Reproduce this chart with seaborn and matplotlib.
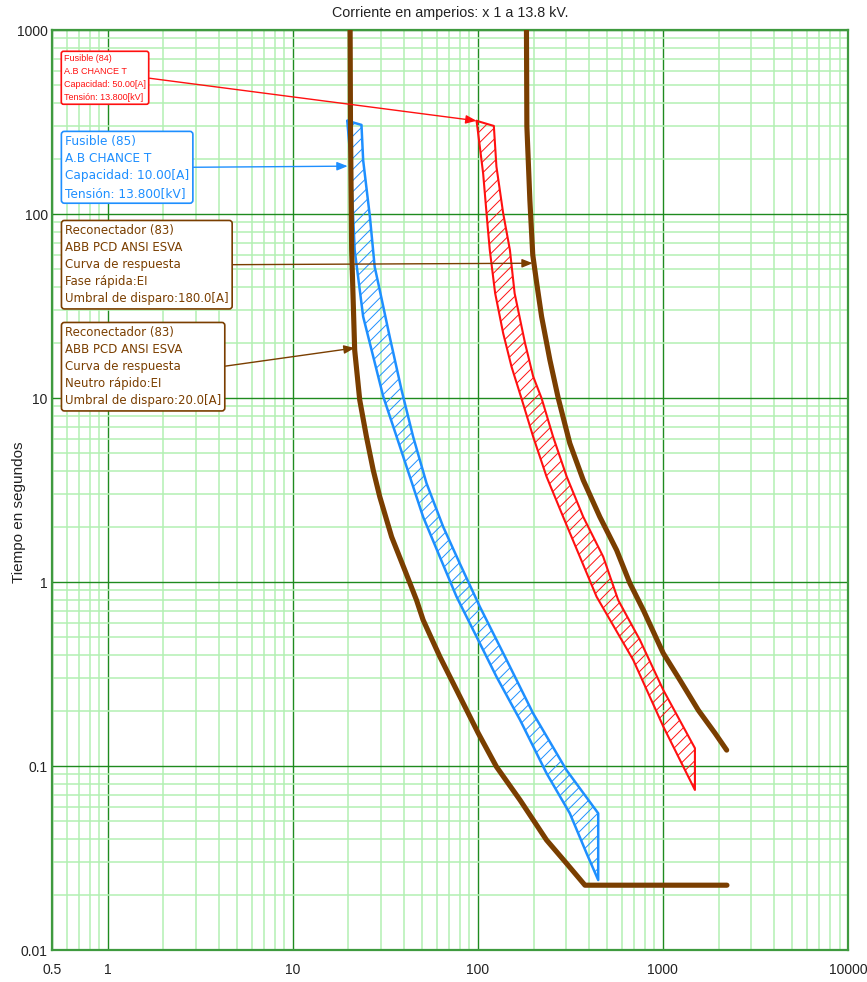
import numpy as np
import pandas as pd
import matplotlib
matplotlib.use("Agg")
import matplotlib.pyplot as plt
from matplotlib.ticker import FixedLocator, FixedFormatter, LogLocator, NullFormatter
import seaborn as sns

# ---- axis ticks ----
x_ticks = [0.5, 1, 10, 100, 1000, 10000]
x_tick_labels = ["0.5", "1", "10", "100", "1000", "10000"]
y_ticks = [0.01, 0.1, 1, 10, 100, 1000]
y_tick_labels = ["0.01", "0.1", "1", "10", "100", "1000"]

# ---- Reconectador (83), neutro rapido, pickup 20 A ----
neutral_amps = [20.4, 20.5, 20.8, 21.6, 23.0, 25.0, 27.2, 29.5, 34.2, 40.3, 46.6,
                50.6, 62.3, 76.7, 100.4, 126, 169, 235, 301, 379, 2218]
neutral_secs = [1100, 300, 63.7, 18.2, 9.75, 6.16, 4.06, 2.91, 1.76, 1.16, 0.798,
                0.622, 0.393, 0.259, 0.151, 0.0991, 0.0653, 0.0396, 0.0296, 0.0225, 0.0225]

# ---- Reconectador (83), fase rapida, pickup 180 A ----
phase_amps = [183, 184, 191, 198, 208, 221, 245, 272, 314, 371, 456, 562, 663,
              783, 1004, 1236, 1553, 1910, 2210]
phase_secs = [1100, 300, 119, 60, 42, 27.7, 16.1, 9.96, 5.67, 3.58, 2.26, 1.49, 0.984,
              0.705, 0.41, 0.293, 0.201, 0.151, 0.122]

# ---- Fusible (85) 10 A: minimum melting / total clearing ----
f85_mm_amps = [19.7, 20.5, 21.6, 24.0, 27.2, 30.8, 36.4, 42.9, 50.6, 62.3, 76.7,
               98.4, 126, 169, 235, 314, 387, 447]
f85_mm_secs = [321, 200, 63.7, 27.7, 16.8, 10.2, 6.16, 3.74, 2.26, 1.37, 0.832,
               0.504, 0.306, 0.178, 0.0913, 0.0553, 0.0335, 0.024]
f85_tc_amps = [23.5, 24.0, 26.1, 27.7, 29.5, 33.4, 38.7, 44.7, 52.8, 64.9, 79.9,
               102.5, 143, 199, 301, 447]
f85_tc_secs = [305, 196, 96.7, 51.7, 38.6, 21.5, 11.05, 6.16, 3.44, 2.0, 1.26,
               0.734, 0.377, 0.193, 0.0951, 0.0553]

# ---- Fusible (84) 50 A: minimum melting / total clearing ----
f84_mm_amps = [98.4, 100.4, 106.8, 113, 116, 124, 137, 152, 172, 199, 235, 289,
               356, 438, 691, 1004, 1489]
f84_mm_secs = [321, 274, 166, 85.3, 63.7, 37.1, 22.5, 14.8, 9.96, 6.16, 3.74, 2.26,
               1.37, 0.832, 0.377, 0.164, 0.0741]
f84_tc_amps = [122, 126, 137, 149, 158, 180, 199, 221, 255, 302, 371, 476, 573,
               751, 1004, 1489]
f84_tc_secs = [301, 181, 101, 63.7, 37.1, 19.8, 13.1, 9.96, 6.16, 3.74, 2.26, 1.37,
               0.798, 0.484, 0.259, 0.125]

# ---- labels ----
title_text = "Corriente en amperios: x 1 a 13.8 kV."
ylabel_text = "Tiempo en segundos"
label_f84 = "Fusible (84)\nA.B CHANCE T\nCapacidad: 50.00[A]\nTensión: 13.800[kV]"
label_f85 = "Fusible (85)\nA.B CHANCE T\nCapacidad: 10.00[A]\nTensión: 13.800[kV]"
label_phase = ("Reconectador (83)\nABB PCD ANSI ESVA\nCurva de respuesta\n"
               "Fase rápida:EI\nUmbral de disparo:180.0[A]")
label_neutral = ("Reconectador (83)\nABB PCD ANSI ESVA\nCurva de respuesta\n"
                 "Neutro rápido:EI\nUmbral de disparo:20.0[A]")

BROWN = "#7a3e00"
BLUE = "#1e8fff"
RED = "#ff1010"

sns.set_theme(style="white")
plt.rcParams["font.family"] = ["Liberation Sans", "DejaVu Sans"]
plt.rcParams["hatch.linewidth"] = 0.7

fig = plt.figure(figsize=(8.67, 9.82), dpi=100)
ax = fig.add_axes([52 / 867, 32 / 982, 796 / 867, 920 / 982])
ax.set_xscale("log")
ax.set_yscale("log")
ax.set_xlim(0.5, 10000)
ax.set_ylim(0.01, 1000)

# grid
ax.xaxis.set_major_locator(FixedLocator(x_ticks))
ax.xaxis.set_major_formatter(FixedFormatter(x_tick_labels))
ax.yaxis.set_major_locator(FixedLocator(y_ticks))
ax.yaxis.set_major_formatter(FixedFormatter(y_tick_labels))
ax.xaxis.set_minor_locator(LogLocator(base=10, subs=np.arange(2, 10), numticks=20))
ax.yaxis.set_minor_locator(LogLocator(base=10, subs=np.arange(2, 10), numticks=20))
ax.xaxis.set_minor_formatter(NullFormatter())
ax.yaxis.set_minor_formatter(NullFormatter())
ax.set_axisbelow(True)
ax.grid(which="minor", color="#b3f0b3", lw=1.1)
ax.grid(which="major", color="#1f8a1f", lw=1.0)
ax.tick_params(which="both", length=0)
ax.tick_params(axis="x", pad=9, labelsize=10, labelcolor="#222222")
ax.tick_params(axis="y", pad=3, labelsize=10, labelcolor="#222222")
for s in ax.spines.values():
    s.set_color("#3f9a3f")
    s.set_linewidth(1.6)


def band(ax, mm_x, mm_y, tc_x, tc_y, color, lw):
    px = list(mm_x) + list(tc_x[::-1]) + [mm_x[0]]
    py = list(mm_y) + list(tc_y[::-1]) + [mm_y[0]]
    ax.fill(px, py, facecolor="none", edgecolor=color, hatch="///", linewidth=0, zorder=2)
    df = pd.DataFrame({"amps": px, "secs": py})
    sns.lineplot(data=df, x="amps", y="secs", sort=False, estimator=None,
                 color=color, lw=lw, ax=ax, zorder=3)


band(ax, f85_mm_amps, f85_mm_secs, f85_tc_amps, f85_tc_secs, BLUE, 1.8)
band(ax, f84_mm_amps, f84_mm_secs, f84_tc_amps, f84_tc_secs, RED, 1.5)

for amps, secs in [(neutral_amps, neutral_secs), (phase_amps, phase_secs)]:
    df = pd.DataFrame({"amps": amps, "secs": secs})
    sns.lineplot(data=df, x="amps", y="secs", sort=False, estimator=None,
                 color=BROWN, lw=3.7, ax=ax, zorder=4)

ax.set_xlim(0.5, 10000)
ax.set_ylim(0.01, 1000)
ax.set_xlabel("")
ax.set_ylabel(ylabel_text, fontsize=11, color="#222222")
ax.yaxis.set_label_coords(-0.033, 0.476)

fig.text(450 / 867, 1 - 13 / 982, title_text, ha="center", va="center",
         fontsize=10.3, color="#222222")


def callout(text, target, box_xy, color, size, spacing, family):
    ax.annotate(
        text, xy=target, xycoords="data",
        xytext=box_xy, textcoords="axes fraction",
        ha="left", va="top", fontsize=size, color=color, family=family,
        linespacing=spacing, zorder=6,
        bbox=dict(boxstyle="round,pad=0.3,rounding_size=0.25", fc="white",
                  ec=color, lw=1.2),
        arrowprops=dict(arrowstyle="-|>,head_length=0.8,head_width=0.32",
                        color=color, lw=1.0, shrinkA=0, shrinkB=0,
                        relpos=(1.0, 0.5), mutation_scale=8),
    )


def frac(px, py):
    return ((px - 52) / 796, (950 - py) / 920)


callout(label_f84, (98.4, 321), frac(64, 54), RED, 6.5, 1.55,
        ["Liberation Sans", "DejaVu Sans"])
callout(label_f85, (19.8, 182), frac(65, 135), BLUE, 8.7, 1.42,
        ["DejaVu Sans"])
callout(label_phase, (198, 54), frac(65, 224), BROWN, 8.5, 1.41,
        ["DejaVu Sans"])
callout(label_neutral, (21.6, 18.7), frac(65, 326), BROWN, 8.5, 1.41,
        ["DejaVu Sans"])

fig.savefig("out.png", dpi=100)
